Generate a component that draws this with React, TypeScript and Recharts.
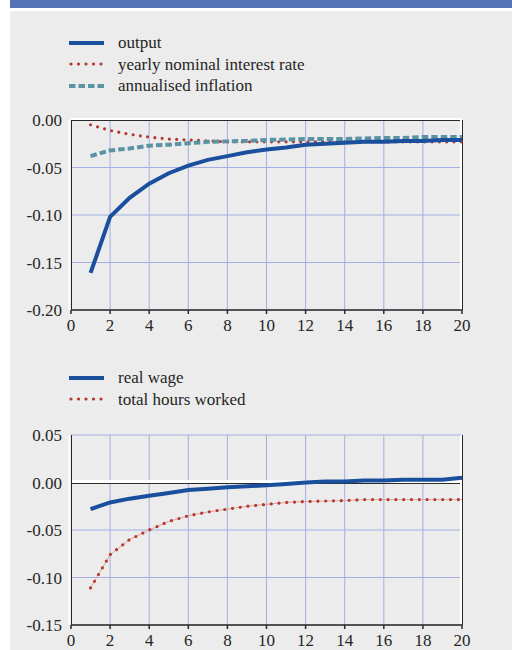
import { LineChart, Line, XAxis, YAxis, CartesianGrid, ReferenceLine } from "recharts";

const periods = [1, 2, 3, 4, 5, 6, 7, 8, 9, 10, 11, 12, 13, 14, 15, 16, 17, 18, 19, 20];

// top panel
const output = [-0.161, -0.102, -0.082, -0.067, -0.056, -0.048, -0.042, -0.038, -0.034, -0.031, -0.029, -0.026, -0.025, -0.024, -0.023, -0.023, -0.022, -0.022, -0.021, -0.021];
const interestRate = [-0.005, -0.011, -0.015, -0.018, -0.02, -0.021, -0.022, -0.023, -0.023, -0.023, -0.023, -0.023, -0.023, -0.023, -0.023, -0.023, -0.023, -0.023, -0.023, -0.023];
const inflation = [-0.038, -0.032, -0.03, -0.027, -0.026, -0.0245, -0.023, -0.0225, -0.022, -0.021, -0.0205, -0.02, -0.02, -0.02, -0.0195, -0.019, -0.019, -0.018, -0.018, -0.018];

// bottom panel
const realWage = [-0.028, -0.021, -0.017, -0.014, -0.011, -0.008, -0.0065, -0.005, -0.004, -0.003, -0.0015, 0.0, 0.001, 0.001, 0.002, 0.002, 0.003, 0.003, 0.003, 0.005];
const hoursWorked = [-0.111, -0.076, -0.06, -0.05, -0.041, -0.035, -0.031, -0.028, -0.025, -0.023, -0.021, -0.02, -0.0195, -0.019, -0.018, -0.018, -0.018, -0.018, -0.018, -0.018];

const xTicks = [0, 2, 4, 6, 8, 10, 12, 14, 16, 18, 20];
const topTicks = [-0.2, -0.15, -0.1, -0.05, 0];
const bottomTicks = [-0.15, -0.1, -0.05, 0, 0.05];

const topData = periods.map((t, i) => ({ t, output: output[i], rate: interestRate[i], infl: inflation[i] }));
const bottomData = periods.map((t, i) => ({ t, wage: realWage[i], hours: hoursWorked[i] }));

const FONT = "Liberation Serif, DejaVu Serif, serif";
const TEXT = "#262626";
const DARK = "#2a2a2a";
const GRID = "#a5aee4";
const BLUE = "#1a4f9e";
const RED = "#b5372d";
const TEAL = "#5b93a4";

const tickStyle = { fontFamily: FONT, fontSize: 17, fill: TEXT };
const fmt = (v: number) => v.toFixed(2);

// white highlight + dark rule, like the original's bevelled frame
const hEdge = (whiteOff: number, darkOff: number, whiteW = 2) => (p: any) => (
  <g>
    <line x1={p.x1} x2={p.x2} y1={p.y1 + whiteOff} y2={p.y2 + whiteOff} stroke="#ffffff" strokeWidth={whiteW} />
    <line x1={p.x1} x2={p.x2} y1={p.y1 + darkOff} y2={p.y2 + darkOff} stroke={DARK} strokeWidth={1} />
  </g>
);
const vEdge = (whiteOff: number, darkOff: number) => (p: any) => (
  <g>
    <line x1={p.x1 + whiteOff} x2={p.x2 + whiteOff} y1={p.y1} y2={p.y2} stroke="#ffffff" strokeWidth={2} />
    <line x1={p.x1 + darkOff} x2={p.x2 + darkOff} y1={p.y1} y2={p.y2} stroke={DARK} strokeWidth={1} />
  </g>
);

type Entry = { label: string; kind: "solid" | "dotted" | "dashed"; color: string };

function Legend({ items, top }: { items: Entry[]; top: number }) {
  return (
    <div style={{ position: "absolute", left: 69, top }}>
      {items.map((it) => (
        <div key={it.label} style={{ display: "flex", alignItems: "center", height: 21.5 }}>
          <svg width={36} height={8} style={{ marginRight: 13 }}>
            {it.kind === "solid" && <line x1={0} x2={35} y1={4} y2={4} stroke={it.color} strokeWidth={4} />}
            {it.kind === "dotted" && (
              <line x1={2} x2={35} y1={4} y2={4} stroke={it.color} strokeWidth={3.2} strokeDasharray="0 7.5" strokeLinecap="round" />
            )}
            {it.kind === "dashed" && (
              <line x1={0} x2={35} y1={4} y2={4} stroke={it.color} strokeWidth={4} strokeDasharray="6.5 3" />
            )}
          </svg>
          <span style={{ fontFamily: FONT, fontSize: 17, color: TEXT, lineHeight: "21px" }}>{it.label}</span>
        </div>
      ))}
    </div>
  );
}

function Panel({ data, domain, ticks, children }: { data: any[]; domain: [number, number]; ticks: number[]; children: any }) {
  return (
    <LineChart width={502} height={235} data={data} margin={{ top: 20, right: 0, bottom: 0, left: 0 }}>
      <CartesianGrid yAxisId="left" stroke={GRID} strokeWidth={1} />
      <XAxis
        dataKey="t"
        type="number"
        domain={[0, 20]}
        ticks={xTicks}
        height={25}
        axisLine={{ stroke: DARK, strokeWidth: 1.5 }}
        tickLine={{ stroke: DARK, strokeWidth: 1.5 }}
        tickSize={4}
        tickMargin={5}
        tick={tickStyle}
        interval={0}
      />
      <YAxis
        yAxisId="left"
        domain={domain}
        ticks={ticks}
        width={61}
        axisLine={false}
        tickLine={false}
        tickSize={0}
        tickMargin={9}
        tick={tickStyle}
        tickFormatter={fmt}
        interval={0}
      />
      <YAxis
        yAxisId="right"
        orientation="right"
        domain={domain}
        ticks={ticks}
        width={50}
        axisLine={false}
        tickLine={false}
        tickSize={0}
        tickMargin={9}
        tick={{ ...tickStyle, textAnchor: "start" }}
        tickFormatter={fmt}
        interval={0}
      />
      {children}
    </LineChart>
  );
}

export default function App() {
  return (
    <div style={{ position: "absolute", left: 0, top: 0, width: 512, height: 650, background: "#ffffff", overflow: "hidden" }}>
      <div style={{ position: "absolute", left: 10, top: 0, width: 502, height: 8, background: "#5673ba" }} />
      <div style={{ position: "absolute", left: 10, top: 11, width: 502, height: 639, background: "#ebeceb" }} />

      <Legend
        top={32}
        items={[
          { label: "output", kind: "solid", color: BLUE },
          { label: "yearly nominal interest rate", kind: "dotted", color: RED },
          { label: "annualised inflation", kind: "dashed", color: TEAL },
        ]}
      />

      <div style={{ position: "absolute", left: 10, top: 100 }}>
        <Panel data={topData} domain={[-0.2, 0]} ticks={topTicks}>
          <ReferenceLine yAxisId="left" y={0} shape={hEdge(-1, 0.5)} />
          <ReferenceLine yAxisId="left" x={0} shape={vEdge(-1.5, 0.5)} />
          <ReferenceLine yAxisId="left" x={20} shape={vEdge(-1, 0.5)} />
          <Line yAxisId="left" dataKey="rate" stroke={RED} strokeWidth={3.2} strokeDasharray="0 7.3" strokeLinecap="round" dot={false} isAnimationActive={false} />
          <Line yAxisId="left" dataKey="infl" stroke={TEAL} strokeWidth={4} strokeDasharray="6.5 3" dot={false} isAnimationActive={false} />
          <Line yAxisId="left" dataKey="output" stroke={BLUE} strokeWidth={4} dot={false} isAnimationActive={false} />
        </Panel>
      </div>

      <Legend
        top={367}
        items={[
          { label: "real wage", kind: "solid", color: BLUE },
          { label: "total hours worked", kind: "dotted", color: RED },
        ]}
      />

      <div style={{ position: "absolute", left: 10, top: 415 }}>
        <Panel data={bottomData} domain={[-0.15, 0.05]} ticks={bottomTicks}>
          <ReferenceLine yAxisId="left" y={0} shape={hEdge(-1, 1, 3)} />
          <ReferenceLine yAxisId="left" x={0} shape={vEdge(-1.5, 0.5)} />
          <ReferenceLine yAxisId="left" x={20} shape={vEdge(-1, 0.5)} />
          <Line yAxisId="left" dataKey="hours" stroke="#e3a49c" strokeWidth={1} dot={false} isAnimationActive={false} />
          <Line yAxisId="left" dataKey="hours" stroke={RED} strokeWidth={3.2} strokeDasharray="0 7.8" strokeLinecap="round" dot={false} isAnimationActive={false} />
          <Line yAxisId="left" dataKey="wage" stroke={BLUE} strokeWidth={4} dot={false} isAnimationActive={false} />
        </Panel>
      </div>
    </div>
  );
}
